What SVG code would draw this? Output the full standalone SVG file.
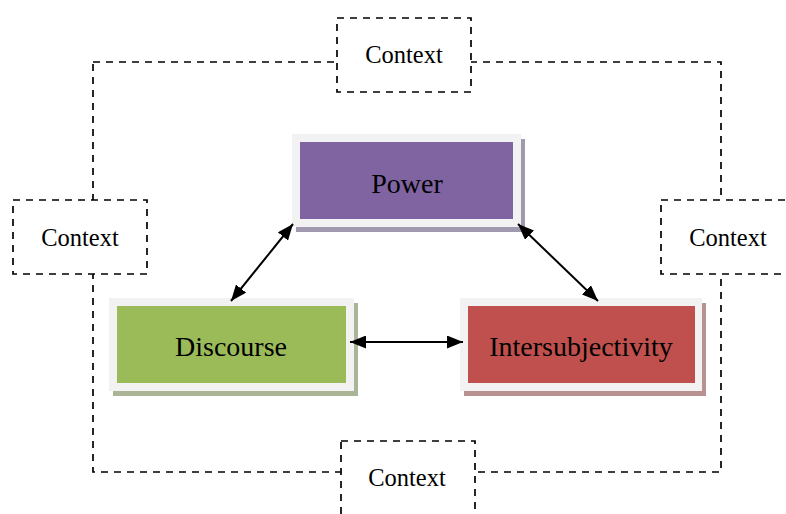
<svg xmlns="http://www.w3.org/2000/svg" width="786" height="514" viewBox="0 0 786 514">
  <style>
    .dash { fill: #FFFFFF; stroke: #000000; stroke-width: 1.7; stroke-dasharray: 7 6; }
    .frame { fill: none; stroke: #000000; stroke-width: 1.7; stroke-dasharray: 7 6; }
    .ctx { font-family: "Liberation Serif", "Times New Roman", serif; font-size: 24.5px; fill: #000000; text-anchor: middle; }
    .lbl { font-family: "Liberation Serif", "Times New Roman", serif; font-size: 28px; fill: #000000; text-anchor: middle; }
    .outer { fill: #F2F2F2; }
    .conn { stroke: #000000; stroke-width: 2; fill: none; marker-start: url(#ah); marker-end: url(#ah); }
  </style>
  <defs>
    <marker id="ah" markerUnits="userSpaceOnUse" markerWidth="16" markerHeight="13" refX="16" refY="6.5" orient="auto-start-reverse" viewBox="0 0 16 13">
      <path d="M0,0 L16,6.5 L0,13 z" fill="#000000"/>
    </marker>
  </defs>
  <rect width="786" height="514" fill="#FFFFFF"/>

  <g id="context-frame">
    <rect class="frame" x="93" y="62" width="628" height="410"/>
  </g>
  <g id="context-top">
    <rect class="dash" x="337" y="18" width="134" height="74"/>
    <text class="ctx" x="404" y="63">Context</text>
  </g>
  <g id="context-left">
    <rect class="dash" x="13" y="200" width="134" height="74"/>
    <text class="ctx" x="80" y="246">Context</text>
  </g>
  <g id="context-right">
    <rect class="dash" x="661" y="200" width="140" height="74"/>
    <text class="ctx" x="728" y="246">Context</text>
  </g>
  <g id="context-bottom">
    <rect class="dash" x="341" y="441" width="134" height="78"/>
    <text class="ctx" x="407" y="486">Context</text>
  </g>

  <g id="power">
    <rect x="296" y="139" width="229" height="93" fill="#A19AAF"/>
    <rect class="outer" x="292" y="134" width="229" height="93"/>
    <rect x="300" y="142" width="213" height="77" fill="#8064A2"/>
    <text class="lbl" x="407" y="193">Power</text>
  </g>
  <g id="discourse">
    <rect x="113" y="303" width="245" height="93" fill="#A9B596"/>
    <rect class="outer" x="109" y="298" width="245" height="93"/>
    <rect x="117" y="306" width="229" height="77" fill="#9BBB59"/>
    <text class="lbl" x="231" y="356">Discourse</text>
  </g>
  <g id="intersubjectivity">
    <rect x="464" y="303" width="242" height="93" fill="#B99191"/>
    <rect class="outer" x="460" y="298" width="242" height="93"/>
    <rect x="468" y="306" width="227" height="77" fill="#C0504D"/>
    <text class="lbl" x="581" y="356">Intersubjectivity</text>
  </g>

  <g id="connectors">
    <line class="conn" x1="293" y1="224" x2="231" y2="301"/>
    <line class="conn" x1="518" y1="224" x2="598" y2="301"/>
    <line class="conn" x1="350" y1="342" x2="463" y2="342"/>
  </g>
</svg>
